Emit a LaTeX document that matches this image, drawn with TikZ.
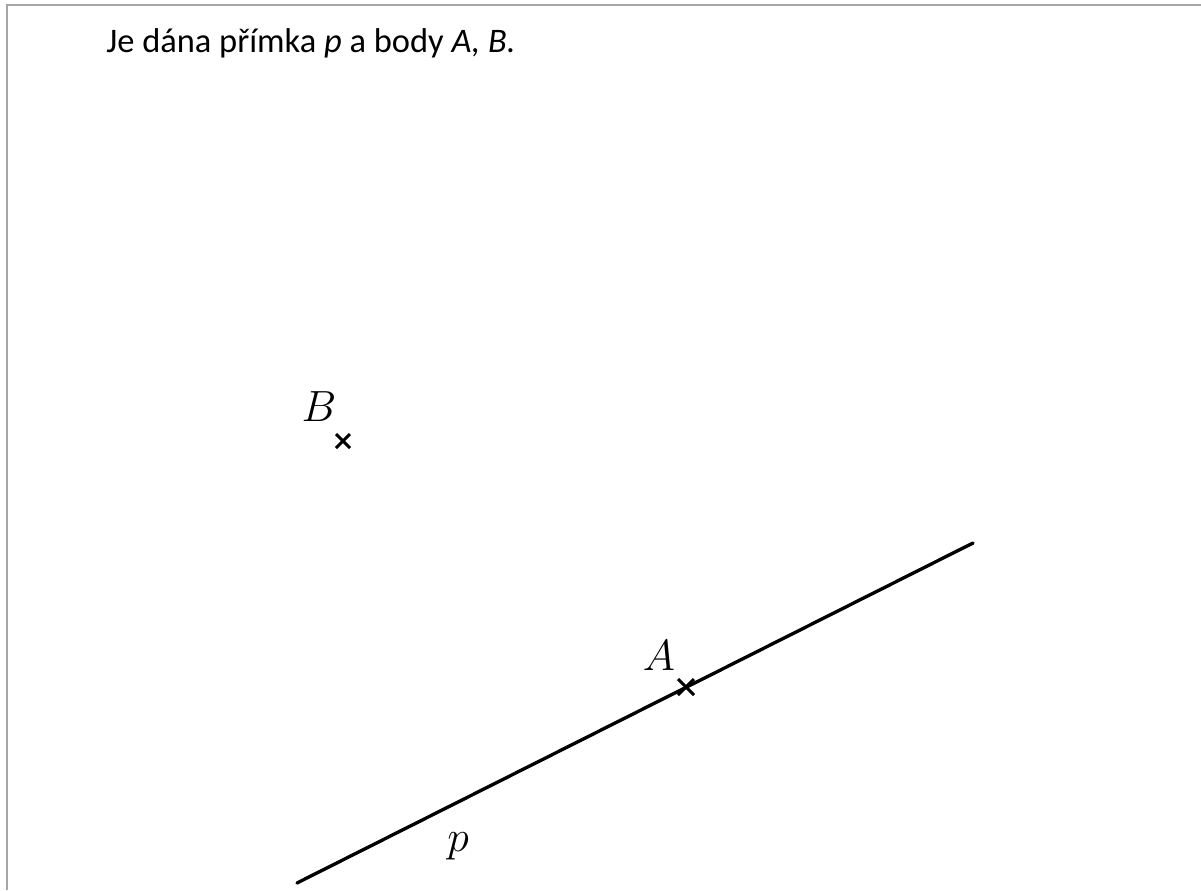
\documentclass[tikz,border=0pt]{standalone}
\usepackage{fontspec}
\setmainfont{Carlito}
\usepackage{tikz}
\usetikzlibrary{positioning,calc}

\begin{document}
\begin{tikzpicture}[
  x=0.02cm, y=-0.02cm,
  frame/.style={gray!70, line width=1.2pt},
  primka/.style={black, line width=1.9pt, line cap=round},
  cross/.style={black, line width=1.7pt},
  lbl/.style={font=\fontsize{24}{28}\selectfont, inner sep=0pt}
]
\useasboundingbox (0,0) rectangle (1201,890);

% frame
\draw[frame] (7,890) -- (7,5) -- (1201,5);

% task text
\node[anchor=base west, inner sep=0pt, font=\fontsize{19.6}{23}\selectfont] (zadani) at (106,52)
  {Je dána přímka \textit{p} a body \textit{A, B.}};

% line p
\coordinate (p1) at (297,883);
\coordinate (p2) at (973,543);
\draw[primka] (p1) -- (p2);
\node[lbl] (plbl) at (458,846) {$p$};

% points
\coordinate (A) at (686,687);
\coordinate (B) at (343,441);
\draw[cross] (A) +(-8,-8) -- +(8,8) +(-8,8) -- +(8,-8);
\draw[cross] (B) +(-7,-7) -- +(7,7) +(-7,7) -- +(7,-7);
\node[lbl] (Albl) at (659,656) {$A$};
\node[lbl] (Blbl) at (319,407) {$B$};

\end{tikzpicture}
\end{document}
